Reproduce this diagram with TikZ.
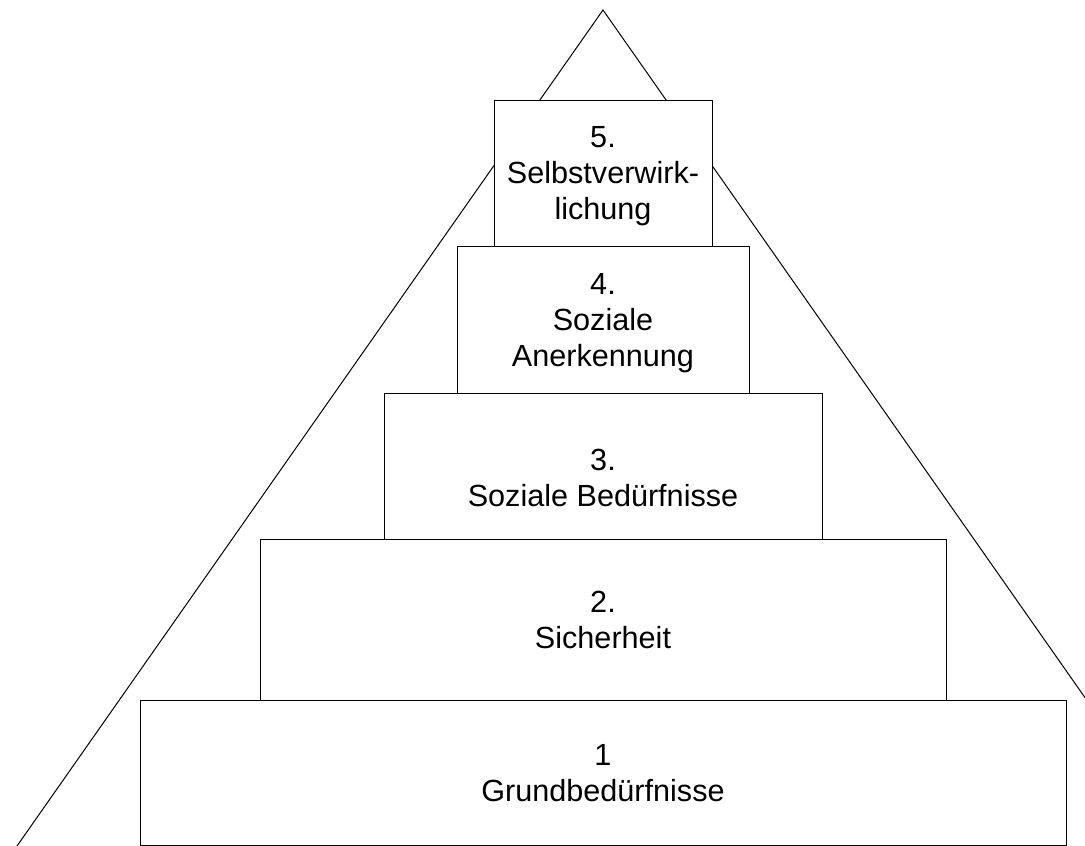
\documentclass[tikz,border=0pt]{standalone}
\usepackage{fontspec}
\setmainfont{Liberation Sans}
\usetikzlibrary{positioning}
\tikzstyle{beschriftung} = [align=center, text depth=0pt, font=\fontsize{30.6}{36}\selectfont]
\tikzstyle{stufe} = [beschriftung, rectangle, draw=black, fill=white, line width=1pt, outer sep=0pt]
\tikzstyle{kante} = [line width=1pt]

\begin{document}
\begin{tikzpicture}[x=1pt, y=-1pt]
\useasboundingbox (0,0) rectangle (1085,846);
\clip (0,0) rectangle (1085,846);

% Pyramid outline
\coordinate (spitze) at (603,10);
\coordinate (links) at (17,846);
\coordinate (rechts) at (1189,846);
\draw [kante] (links) -- (spitze) -- (rechts);

% Steps, from the base up
\node (s1) [stufe, minimum width=926, minimum height=145] at (603,772.5) {1\\Grundbedürfnisse};
\node (s2) [stufe, minimum width=686, minimum height=161, above=0pt of s1] {2.\\Sicherheit};
\node (s3) [stufe, minimum width=438, minimum height=146, above=0pt of s2] {};
\node (t3) [beschriftung, yshift=-12pt] at (s3.center) {3.\\Soziale Bedürfnisse};
\node (s4) [stufe, minimum width=292, minimum height=147, above=0pt of s3] {4.\\Soziale\\Anerkennung};
\node (s5) [stufe, minimum width=218, minimum height=146, above=0pt of s4] {5.\\Selbstverwirk-\\lichung};

\end{tikzpicture}
\end{document}
